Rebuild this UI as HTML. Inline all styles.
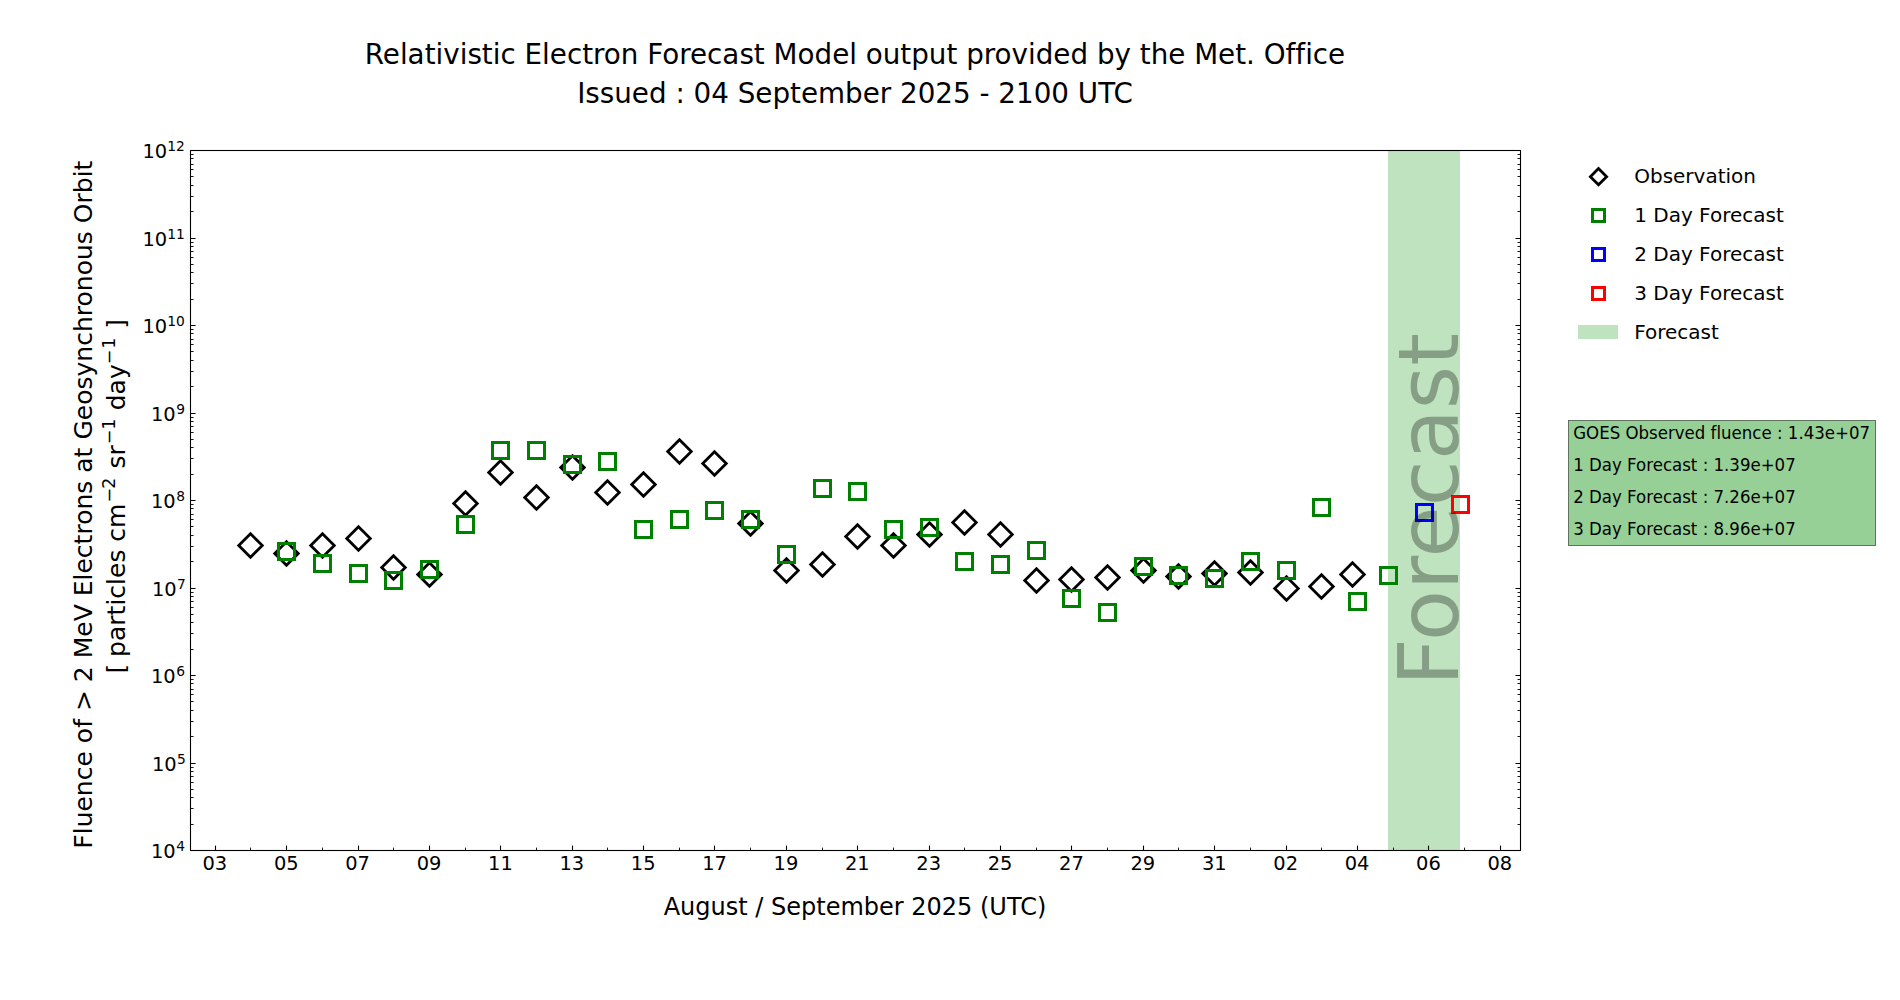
<!DOCTYPE html>
<html><head><meta charset="utf-8"><title>Relativistic Electron Forecast Model</title>
<style>html,body{margin:0;padding:0;background:#fff;}body{width:1900px;height:1000px;overflow:hidden;}svg{display:block;}text{font-variant-ligatures:none;font-family:"DejaVu Sans","Liberation Sans",sans-serif;fill:#000;}</style></head><body>
<svg width="1900" height="1000" viewBox="0 0 1900 1000">
<rect x="0" y="0" width="1900" height="1000" fill="#fff"/>
<rect x="1388" y="150" width="72" height="700" fill="#bfe2bf"/>
<g fill="none" stroke="#000" stroke-width="2.78" stroke-linejoin="miter">
<path d="M250.50 533.71L262.29 545.50L250.50 557.29L238.71 545.50Z"/>
<path d="M286.50 541.71L298.29 553.50L286.50 565.29L274.71 553.50Z"/>
<path d="M322.50 533.71L334.29 545.50L322.50 557.29L310.71 545.50Z"/>
<path d="M358.50 526.71L370.29 538.50L358.50 550.29L346.71 538.50Z"/>
<path d="M393.50 555.71L405.29 567.50L393.50 579.29L381.71 567.50Z"/>
<path d="M429.50 562.71L441.29 574.50L429.50 586.29L417.71 574.50Z"/>
<path d="M465.50 491.71L477.29 503.50L465.50 515.29L453.71 503.50Z"/>
<path d="M500.50 460.71L512.29 472.50L500.50 484.29L488.71 472.50Z"/>
<path d="M536.50 485.71L548.29 497.50L536.50 509.29L524.71 497.50Z"/>
<path d="M572.50 455.71L584.29 467.50L572.50 479.29L560.71 467.50Z"/>
<path d="M607.50 480.71L619.29 492.50L607.50 504.29L595.71 492.50Z"/>
<path d="M643.50 472.71L655.29 484.50L643.50 496.29L631.71 484.50Z"/>
<path d="M679.50 439.71L691.29 451.50L679.50 463.29L667.71 451.50Z"/>
<path d="M714.50 451.71L726.29 463.50L714.50 475.29L702.71 463.50Z"/>
<path d="M750.50 511.71L762.29 523.50L750.50 535.29L738.71 523.50Z"/>
<path d="M786.50 558.71L798.29 570.50L786.50 582.29L774.71 570.50Z"/>
<path d="M822.50 552.71L834.29 564.50L822.50 576.29L810.71 564.50Z"/>
<path d="M857.50 524.71L869.29 536.50L857.50 548.29L845.71 536.50Z"/>
<path d="M893.50 533.71L905.29 545.50L893.50 557.29L881.71 545.50Z"/>
<path d="M929.50 522.71L941.29 534.50L929.50 546.29L917.71 534.50Z"/>
<path d="M964.50 510.71L976.29 522.50L964.50 534.29L952.71 522.50Z"/>
<path d="M1000.50 522.71L1012.29 534.50L1000.50 546.29L988.71 534.50Z"/>
<path d="M1036.50 568.71L1048.29 580.50L1036.50 592.29L1024.71 580.50Z"/>
<path d="M1071.50 567.71L1083.29 579.50L1071.50 591.29L1059.71 579.50Z"/>
<path d="M1107.50 565.71L1119.29 577.50L1107.50 589.29L1095.71 577.50Z"/>
<path d="M1143.50 558.71L1155.29 570.50L1143.50 582.29L1131.71 570.50Z"/>
<path d="M1178.50 564.71L1190.29 576.50L1178.50 588.29L1166.71 576.50Z"/>
<path d="M1214.50 561.71L1226.29 573.50L1214.50 585.29L1202.71 573.50Z"/>
<path d="M1250.50 560.71L1262.29 572.50L1250.50 584.29L1238.71 572.50Z"/>
<path d="M1286.50 576.71L1298.29 588.50L1286.50 600.29L1274.71 588.50Z"/>
<path d="M1321.50 574.71L1333.29 586.50L1321.50 598.29L1309.71 586.50Z"/>
<path d="M1352.50 562.71L1364.29 574.50L1352.50 586.29L1340.71 574.50Z"/>
</g>
<rect x="278.5" y="543.5" width="16" height="16" fill="none" stroke="#008000" stroke-width="3"/>
<rect x="314.5" y="555.5" width="16" height="16" fill="none" stroke="#008000" stroke-width="3"/>
<rect x="350.5" y="565.5" width="16" height="16" fill="none" stroke="#008000" stroke-width="3"/>
<rect x="385.5" y="572.5" width="16" height="16" fill="none" stroke="#008000" stroke-width="3"/>
<rect x="421.5" y="561.5" width="16" height="16" fill="none" stroke="#008000" stroke-width="3"/>
<rect x="457.5" y="516.5" width="16" height="16" fill="none" stroke="#008000" stroke-width="3"/>
<rect x="492.5" y="442.5" width="16" height="16" fill="none" stroke="#008000" stroke-width="3"/>
<rect x="528.5" y="442.5" width="16" height="16" fill="none" stroke="#008000" stroke-width="3"/>
<rect x="564.5" y="456.5" width="16" height="16" fill="none" stroke="#008000" stroke-width="3"/>
<rect x="599.5" y="453.5" width="16" height="16" fill="none" stroke="#008000" stroke-width="3"/>
<rect x="635.5" y="521.5" width="16" height="16" fill="none" stroke="#008000" stroke-width="3"/>
<rect x="671.5" y="511.5" width="16" height="16" fill="none" stroke="#008000" stroke-width="3"/>
<rect x="706.5" y="502.5" width="16" height="16" fill="none" stroke="#008000" stroke-width="3"/>
<rect x="742.5" y="511.5" width="16" height="16" fill="none" stroke="#008000" stroke-width="3"/>
<rect x="778.5" y="546.5" width="16" height="16" fill="none" stroke="#008000" stroke-width="3"/>
<rect x="814.5" y="480.5" width="16" height="16" fill="none" stroke="#008000" stroke-width="3"/>
<rect x="849.5" y="483.5" width="16" height="16" fill="none" stroke="#008000" stroke-width="3"/>
<rect x="885.5" y="521.5" width="16" height="16" fill="none" stroke="#008000" stroke-width="3"/>
<rect x="921.5" y="519.5" width="16" height="16" fill="none" stroke="#008000" stroke-width="3"/>
<rect x="956.5" y="553.5" width="16" height="16" fill="none" stroke="#008000" stroke-width="3"/>
<rect x="992.5" y="556.5" width="16" height="16" fill="none" stroke="#008000" stroke-width="3"/>
<rect x="1028.5" y="542.5" width="16" height="16" fill="none" stroke="#008000" stroke-width="3"/>
<rect x="1063.5" y="590.5" width="16" height="16" fill="none" stroke="#008000" stroke-width="3"/>
<rect x="1099.5" y="604.5" width="16" height="16" fill="none" stroke="#008000" stroke-width="3"/>
<rect x="1135.5" y="558.5" width="16" height="16" fill="none" stroke="#008000" stroke-width="3"/>
<rect x="1170.5" y="567.5" width="16" height="16" fill="none" stroke="#008000" stroke-width="3"/>
<rect x="1206.5" y="570.5" width="16" height="16" fill="none" stroke="#008000" stroke-width="3"/>
<rect x="1242.5" y="553.5" width="16" height="16" fill="none" stroke="#008000" stroke-width="3"/>
<rect x="1278.5" y="562.5" width="16" height="16" fill="none" stroke="#008000" stroke-width="3"/>
<rect x="1313.5" y="499.5" width="16" height="16" fill="none" stroke="#008000" stroke-width="3"/>
<rect x="1349.5" y="593.5" width="16" height="16" fill="none" stroke="#008000" stroke-width="3"/>
<rect x="1380.5" y="567.5" width="16" height="16" fill="none" stroke="#008000" stroke-width="3"/>
<rect x="1416.5" y="504.5" width="16" height="16" fill="none" stroke="#0000ff" stroke-width="3"/>
<rect x="1452.5" y="496.5" width="16" height="16" fill="none" stroke="#ff0000" stroke-width="3"/>
<text transform="translate(1458,509.5) rotate(-90)" text-anchor="middle" font-size="83.4" fill="#000" fill-opacity="0.3">Forecast</text>
<g stroke="#000" stroke-width="1.1">
<path d="M190 850.5H195.6M1520 850.5H1515.5"/>
<path d="M190 763.5H195.6M1520 763.5H1515.5"/>
<path d="M190 675.5H195.6M1520 675.5H1515.5"/>
<path d="M190 588.5H195.6M1520 588.5H1515.5"/>
<path d="M190 500.5H195.6M1520 500.5H1515.5"/>
<path d="M190 413.5H195.6M1520 413.5H1515.5"/>
<path d="M190 325.5H195.6M1520 325.5H1515.5"/>
<path d="M190 238.5H195.6M1520 238.5H1515.5"/>
<path d="M190 150.5H195.6M1520 150.5H1515.5"/>
</g><g stroke="#000" stroke-width="0.9">
<path d="M190 824.5H193.6M1520 824.5H1517.5"/>
<path d="M190 808.5H193.6M1520 808.5H1517.5"/>
<path d="M190 797.5H193.6M1520 797.5H1517.5"/>
<path d="M190 789.5H193.6M1520 789.5H1517.5"/>
<path d="M190 782.5H193.6M1520 782.5H1517.5"/>
<path d="M190 776.5H193.6M1520 776.5H1517.5"/>
<path d="M190 771.5H193.6M1520 771.5H1517.5"/>
<path d="M190 767.5H193.6M1520 767.5H1517.5"/>
<path d="M190 736.5H193.6M1520 736.5H1517.5"/>
<path d="M190 721.5H193.6M1520 721.5H1517.5"/>
<path d="M190 710.5H193.6M1520 710.5H1517.5"/>
<path d="M190 701.5H193.6M1520 701.5H1517.5"/>
<path d="M190 694.5H193.6M1520 694.5H1517.5"/>
<path d="M190 689.5H193.6M1520 689.5H1517.5"/>
<path d="M190 683.5H193.6M1520 683.5H1517.5"/>
<path d="M190 679.5H193.6M1520 679.5H1517.5"/>
<path d="M190 649.5H193.6M1520 649.5H1517.5"/>
<path d="M190 633.5H193.6M1520 633.5H1517.5"/>
<path d="M190 622.5H193.6M1520 622.5H1517.5"/>
<path d="M190 614.5H193.6M1520 614.5H1517.5"/>
<path d="M190 607.5H193.6M1520 607.5H1517.5"/>
<path d="M190 601.5H193.6M1520 601.5H1517.5"/>
<path d="M190 596.5H193.6M1520 596.5H1517.5"/>
<path d="M190 592.5H193.6M1520 592.5H1517.5"/>
<path d="M190 561.5H193.6M1520 561.5H1517.5"/>
<path d="M190 546.5H193.6M1520 546.5H1517.5"/>
<path d="M190 535.5H193.6M1520 535.5H1517.5"/>
<path d="M190 526.5H193.6M1520 526.5H1517.5"/>
<path d="M190 519.5H193.6M1520 519.5H1517.5"/>
<path d="M190 514.5H193.6M1520 514.5H1517.5"/>
<path d="M190 508.5H193.6M1520 508.5H1517.5"/>
<path d="M190 504.5H193.6M1520 504.5H1517.5"/>
<path d="M190 474.5H193.6M1520 474.5H1517.5"/>
<path d="M190 458.5H193.6M1520 458.5H1517.5"/>
<path d="M190 447.5H193.6M1520 447.5H1517.5"/>
<path d="M190 439.5H193.6M1520 439.5H1517.5"/>
<path d="M190 432.5H193.6M1520 432.5H1517.5"/>
<path d="M190 426.5H193.6M1520 426.5H1517.5"/>
<path d="M190 421.5H193.6M1520 421.5H1517.5"/>
<path d="M190 417.5H193.6M1520 417.5H1517.5"/>
<path d="M190 386.5H193.6M1520 386.5H1517.5"/>
<path d="M190 371.5H193.6M1520 371.5H1517.5"/>
<path d="M190 360.5H193.6M1520 360.5H1517.5"/>
<path d="M190 351.5H193.6M1520 351.5H1517.5"/>
<path d="M190 344.5H193.6M1520 344.5H1517.5"/>
<path d="M190 339.5H193.6M1520 339.5H1517.5"/>
<path d="M190 333.5H193.6M1520 333.5H1517.5"/>
<path d="M190 329.5H193.6M1520 329.5H1517.5"/>
<path d="M190 299.5H193.6M1520 299.5H1517.5"/>
<path d="M190 283.5H193.6M1520 283.5H1517.5"/>
<path d="M190 272.5H193.6M1520 272.5H1517.5"/>
<path d="M190 264.5H193.6M1520 264.5H1517.5"/>
<path d="M190 257.5H193.6M1520 257.5H1517.5"/>
<path d="M190 251.5H193.6M1520 251.5H1517.5"/>
<path d="M190 246.5H193.6M1520 246.5H1517.5"/>
<path d="M190 242.5H193.6M1520 242.5H1517.5"/>
<path d="M190 211.5H193.6M1520 211.5H1517.5"/>
<path d="M190 196.5H193.6M1520 196.5H1517.5"/>
<path d="M190 185.5H193.6M1520 185.5H1517.5"/>
<path d="M190 176.5H193.6M1520 176.5H1517.5"/>
<path d="M190 169.5H193.6M1520 169.5H1517.5"/>
<path d="M190 164.5H193.6M1520 164.5H1517.5"/>
<path d="M190 158.5H193.6M1520 158.5H1517.5"/>
<path d="M190 154.5H193.6M1520 154.5H1517.5"/>
</g>
<g stroke="#000" stroke-width="1.1">
<path d="M215.5 850V845.6"/>
<path d="M286.5 850V845.6"/>
<path d="M358.5 850V845.6"/>
<path d="M429.5 850V845.6"/>
<path d="M500.5 850V845.6"/>
<path d="M572.5 850V845.6"/>
<path d="M643.5 850V845.6"/>
<path d="M714.5 850V845.6"/>
<path d="M786.5 850V845.6"/>
<path d="M857.5 850V845.6"/>
<path d="M929.5 850V845.6"/>
<path d="M1000.5 850V845.6"/>
<path d="M1071.5 850V845.6"/>
<path d="M1143.5 850V845.6"/>
<path d="M1214.5 850V845.6"/>
<path d="M1286.5 850V845.6"/>
<path d="M1357.5 850V845.6"/>
<path d="M1428.5 850V845.6"/>
<path d="M1500.5 850V845.6"/>
</g><g stroke="#000" stroke-width="0.9">
<path d="M250.5 850V847.6"/>
<path d="M322.5 850V847.6"/>
<path d="M393.5 850V847.6"/>
<path d="M465.5 850V847.6"/>
<path d="M536.5 850V847.6"/>
<path d="M607.5 850V847.6"/>
<path d="M679.5 850V847.6"/>
<path d="M750.5 850V847.6"/>
<path d="M822.5 850V847.6"/>
<path d="M893.5 850V847.6"/>
<path d="M964.5 850V847.6"/>
<path d="M1036.5 850V847.6"/>
<path d="M1107.5 850V847.6"/>
<path d="M1178.5 850V847.6"/>
<path d="M1250.5 850V847.6"/>
<path d="M1321.5 850V847.6"/>
<path d="M1393.5 850V847.6"/>
<path d="M1464.5 850V847.6"/>
</g>
<rect x="190.5" y="150.5" width="1330" height="700" fill="none" stroke="#000" stroke-width="1.1"/>
<g font-size="19.44" text-anchor="middle">
<text x="214.86" y="870.2">03</text>
<text x="286.25" y="870.2">05</text>
<text x="357.63" y="870.2">07</text>
<text x="429.02" y="870.2">09</text>
<text x="500.40" y="870.2">11</text>
<text x="571.79" y="870.2">13</text>
<text x="643.17" y="870.2">15</text>
<text x="714.56" y="870.2">17</text>
<text x="785.95" y="870.2">19</text>
<text x="857.33" y="870.2">21</text>
<text x="928.72" y="870.2">23</text>
<text x="1000.10" y="870.2">25</text>
<text x="1071.49" y="870.2">27</text>
<text x="1142.87" y="870.2">29</text>
<text x="1214.26" y="870.2">31</text>
<text x="1285.64" y="870.2">02</text>
<text x="1357.03" y="870.2">04</text>
<text x="1428.41" y="870.2">06</text>
<text x="1499.80" y="870.2">08</text>
</g>
<g font-size="19.44">
<text x="151.0" y="858.0">10<tspan font-size="13.8" dy="-7.1" dx="0.4">4</tspan></text>
<text x="151.9" y="771.0">10<tspan font-size="13.8" dy="-7.1" dx="0.4">5</tspan></text>
<text x="151.0" y="683.0">10<tspan font-size="13.8" dy="-7.1" dx="0.4">6</tspan></text>
<text x="151.9" y="596.0">10<tspan font-size="13.8" dy="-7.1" dx="0.4">7</tspan></text>
<text x="151.0" y="508.0">10<tspan font-size="13.8" dy="-7.1" dx="0.4">8</tspan></text>
<text x="151.0" y="421.0">10<tspan font-size="13.8" dy="-7.1" dx="0.4">9</tspan></text>
<text x="142.5" y="333.0">10<tspan font-size="13.8" dy="-7.1" dx="0.1">10</tspan></text>
<text x="142.5" y="246.0">10<tspan font-size="13.8" dy="-7.1" dx="0.1">11</tspan></text>
<text x="142.5" y="158.0">10<tspan font-size="13.8" dy="-7.1" dx="0.1">12</tspan></text>
</g>
<text x="855" y="914.5" text-anchor="middle" font-size="24">August / September 2025 (UTC)</text>
<text transform="translate(92.1,504.65) rotate(-90)" text-anchor="middle" font-size="25.03">Fluence of &gt; 2 MeV Electrons at Geosynchronous Orbit</text>
<text transform="translate(125,674.6) rotate(-90)" font-size="25"><tspan dx="1">[</tspan><tspan dx="-1"> particles cm</tspan><tspan font-size="17.5" dy="-10.5" dx="1">−</tspan><tspan font-size="17.5" dx="-1">2</tspan><tspan dy="10.5" dx="1.3"> sr</tspan><tspan font-size="17.5" dy="-10.5" dx="0.8">−1</tspan><tspan dy="10.5" dx="0.3"> day</tspan><tspan font-size="17.5" dy="-10.5" dx="0">−</tspan><tspan font-size="17.5" dx="1">1</tspan><tspan dy="10.5" dx="0.8"> ]</tspan></text>
<text x="855" y="64" text-anchor="middle" font-size="27.78">Relativistic Electron Forecast Model output provided by the Met. Office</text>
<text x="855" y="102.5" text-anchor="middle" font-size="27.78">Issued : 04 September 2025 - 2100 UTC</text>
<path d="M1598.5 168.57L1606.63 176.7L1598.5 184.83L1590.37 176.7Z" fill="none" stroke="#000" stroke-width="2.78"/>
<rect x="1592.5" y="209.5" width="12" height="12" fill="none" stroke="#008000" stroke-width="3"/>
<rect x="1592.5" y="248.5" width="12" height="12" fill="none" stroke="#0000ff" stroke-width="3"/>
<rect x="1592.5" y="287.5" width="12" height="12" fill="none" stroke="#ff0000" stroke-width="3"/>
<rect x="1578" y="325" width="40" height="14" fill="#bfe2bf"/>
<g font-size="20">
<text x="1634.2" y="183.1">Observation</text>
<text x="1634.2" y="222.1">1 Day Forecast</text>
<text x="1634.2" y="261.1">2 Day Forecast</text>
<text x="1634.2" y="300.1">3 Day Forecast</text>
<text x="1634.2" y="339.1">Forecast</text>
</g>
<rect x="1568.5" y="420.5" width="307" height="125" fill="#97d097" stroke="#5f735f" stroke-width="1"/>
<g font-size="16.62">
<text transform="translate(1573.2,439.2) scale(1,1.06)">GOES Observed fluence : 1.43e+07</text>
<text transform="translate(1573.2,471.2) scale(1,1.06)">1 Day Forecast : 1.39e+07</text>
<text transform="translate(1573.2,503.1) scale(1,1.06)">2 Day Forecast : 7.26e+07</text>
<text transform="translate(1573.2,535.0) scale(1,1.06)">3 Day Forecast : 8.96e+07</text>
</g>
</svg></body></html>
